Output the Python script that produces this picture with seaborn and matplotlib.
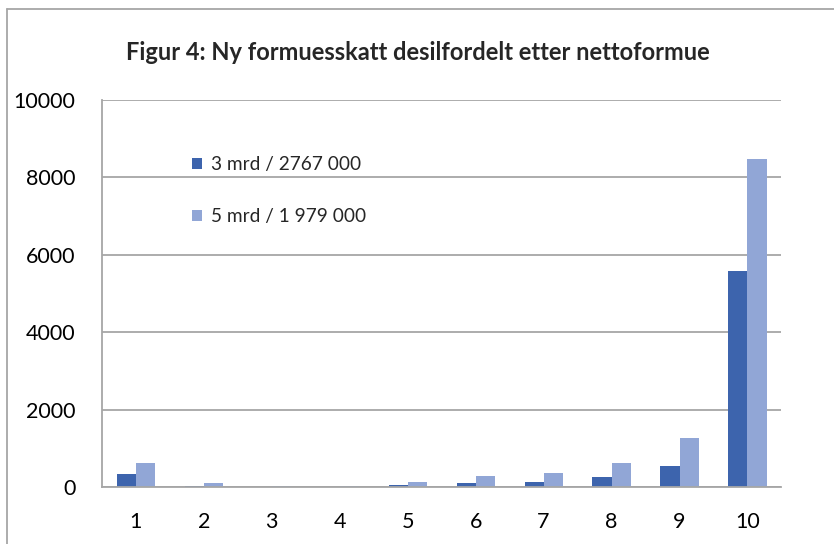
import pandas as pd
import matplotlib.pyplot as plt
import seaborn as sns
from matplotlib.lines import Line2D

# Data
deciles = ['1', '2', '3', '4', '5', '6', '7', '8', '9', '10']
series_names = ['3 mrd / 2767 000', '5 mrd / 1 979 000']
vals_3mrd = [360, 40, 5, 5, 60, 120, 145, 265, 548, 5590]
vals_5mrd = [630, 110, 30, 35, 130, 300, 385, 625, 1285, 8460]

df = pd.DataFrame({
    'Desil': deciles * 2,
    'Verdi': vals_3mrd + vals_5mrd,
    'Serie': [series_names[0]] * 10 + [series_names[1]] * 10,
})

sns.set_style('white')
plt.rcParams['font.family'] = ['Lato', 'DejaVu Sans']

fig = plt.figure(figsize=(8.34, 5.44), dpi=100)
ax = fig.add_axes([0.122, 0.1039, 0.815, 0.713])

sns.barplot(data=df, x='Desil', y='Verdi', hue='Serie', order=deciles,
            hue_order=series_names, palette=['#3D64AD', '#91A6D6'],
            width=0.56, saturation=1, linewidth=0, ax=ax)

ax.set_ylim(0, 10000)
ax.set_yticks(range(0, 10001, 2000))
ax.set_xlim(-0.5, 9.5)
ax.set_xlabel('')
ax.set_ylabel('')
ax.grid(axis='y', color='#A6A6A6', linewidth=1.3)
ax.set_axisbelow(True)
for s in ['top', 'right']:
    ax.spines[s].set_visible(False)
for s in ['left', 'bottom']:
    ax.spines[s].set_color('#A6A6A6')
    ax.spines[s].set_linewidth(1.3)
ax.tick_params(axis='both', length=0, labelsize=15.5, colors='black')
ax.tick_params(axis='y', pad=19)
ax.tick_params(axis='x', pad=18)

ax.legend(loc='upper left', bbox_to_anchor=(0.108, 0.898), frameon=False,
          fontsize=13.7, handlelength=0.5, handleheight=0.5, handletextpad=0.5,
          labelspacing=1.85)

fig.text(0.501, 0.904, 'Figur 4: Ny formuesskatt desilfordelt etter nettoformue',
         ha='center', va='center', fontsize=17, fontweight='bold')

# chart frame
fig.add_artist(Line2D([0.0078, 1], [0.984, 0.984], transform=fig.transFigure,
                      color='#A6A6A6', linewidth=1.3))
fig.add_artist(Line2D([0.0078, 0.0078], [0, 0.984], transform=fig.transFigure,
                      color='#A6A6A6', linewidth=1.3))

plt.savefig('out.png', dpi=100)
